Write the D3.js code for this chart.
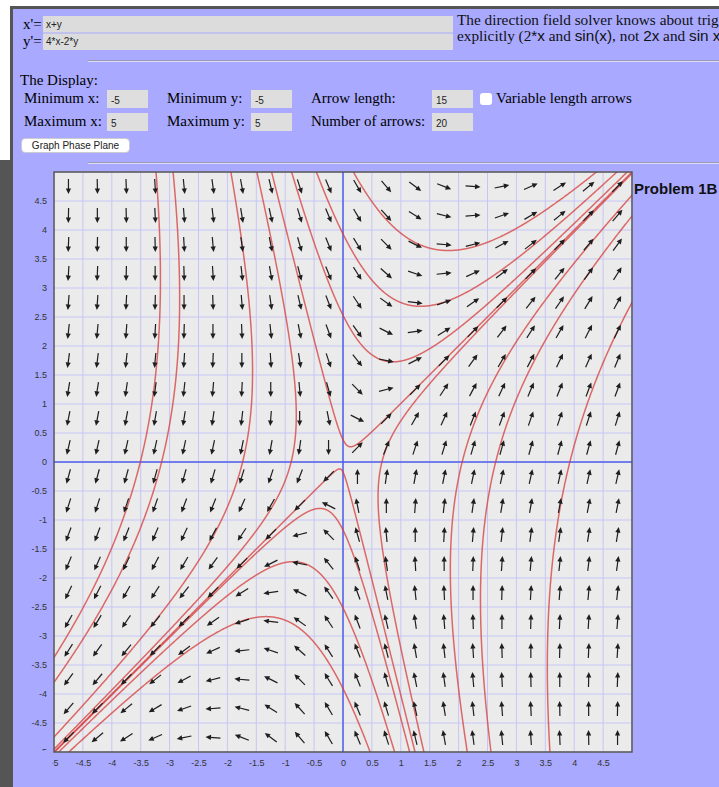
<!DOCTYPE html>
<html>
<head>
<meta charset="utf-8">
<script src="https://cdn.jsdelivr.net/npm/d3@7"></script>
<style>
body { margin: 0; background: #fff; }
svg { display: block; }
</style>
</head>
<body>
<div id="vis"></div>
<script>
// x' = xPrime[0]*x + xPrime[1]*y ,  y' = yPrime[0]*x + yPrime[1]*y
var xPrime = [1, 1];
var yPrime = [4, -2];
var xRange = [-5, 5];
var yRange = [-5, 5];
var arrowCount = 20;
var arrowLength = 15;

var xTicks = [-5, -4.5, -4, -3.5, -3, -2.5, -2, -1.5, -1, -0.5, 0, 0.5, 1, 1.5, 2, 2.5, 3, 3.5, 4, 4.5];
var yTicks = [-5, -4.5, -4, -3.5, -3, -2.5, -2, -1.5, -1, -0.5, 0, 0.5, 1, 1.5, 2, 2.5, 3, 3.5, 4, 4.5];
var gridValues = [-5, -4.5, -4, -3.5, -3, -2.5, -2, -1.5, -1, -0.5, 0, 0.5, 1, 1.5, 2, 2.5, 3, 3.5, 4, 4.5, 5];

var topStarts = [-3.235, -2.94, -1.94, -1.49, -1.235, -0.89, -0.46, 0.18];
var bottomStarts = [0.47, 0.893, 1.153, 1.246, 1.4, 2.15, 2.56, 3.58];

var serif = "'Liberation Serif', 'Times New Roman', serif";
var sans = "'Liberation Sans', Arial, Helvetica, sans-serif";

var W = 719, H = 787;
var svg = d3.select("#vis").append("svg").attr("width", W).attr("height", H);

// page frame
svg.append("rect").attr("x", 10).attr("y", 6).attr("width", W - 10).attr("height", H - 6).attr("fill", "#555");
svg.append("rect").attr("x", 0).attr("y", 160).attr("width", 13).attr("height", H - 160).attr("fill", "#555");
svg.append("rect").attr("x", 13).attr("y", 9).attr("width", W - 13).attr("height", H - 9).attr("fill", "#a9aaff");

// equation inputs
var head = svg.append("g");
head.append("text").attr("x", 23).attr("y", 29).attr("font-family", serif).attr("font-size", 15).text("x'=");
head.append("text").attr("x", 23).attr("y", 46).attr("font-family", serif).attr("font-size", 15).text("y'=");
head.append("rect").attr("x", 43).attr("y", 16).attr("width", 410).attr("height", 16.5).attr("fill", "#dcdcdc");
head.append("rect").attr("x", 43).attr("y", 33.5).attr("width", 410).attr("height", 16.5).attr("fill", "#dcdcdc");
head.append("text").attr("x", 46).attr("y", 28).attr("font-family", sans).attr("font-size", 10).attr("fill", "#222").text("x+y");
head.append("text").attr("x", 46).attr("y", 45).attr("font-family", sans).attr("font-size", 10).attr("fill", "#222").text("4*x-2*y");

var note = head.append("text").attr("font-family", serif).attr("font-size", 15.3).attr("fill", "#111");
note.append("tspan").attr("x", 457).attr("y", 25).text("The direction field solver knows about trig");
var l2 = note.append("tspan").attr("x", 457).attr("y", 41);
l2.append("tspan").text("explicitly (2");
l2.append("tspan").attr("font-family", sans).text("*x");
l2.append("tspan").text(" and ");
l2.append("tspan").attr("font-family", sans).text("sin(x)");
l2.append("tspan").text(", not ");
l2.append("tspan").attr("font-family", sans).text("2x");
l2.append("tspan").text(" and ");
l2.append("tspan").attr("font-family", sans).text("sin x");

// rules
[61, 163].forEach(function (yy) {
    svg.append("rect").attr("x", 88).attr("y", yy - 1).attr("width", W - 88).attr("height", 1).attr("fill", "#9a9ab8");
    svg.append("rect").attr("x", 88).attr("y", yy).attr("width", W - 88).attr("height", 1).attr("fill", "#dcdcf4");
});

// display settings
svg.append("text").attr("x", 20).attr("y", 85).attr("font-family", serif).attr("font-size", 15).text("The Display:");

var fields = [
    ["Minimum x:", 24, 103, 107, "-5"], ["Maximum x:", 24, 126, 107, "5"],
    ["Minimum y:", 167, 103, 251, "-5"], ["Maximum y:", 167, 126, 251, "5"],
    ["Arrow length:", 311, 103, 432, String(arrowLength)], ["Number of arrows:", 311, 126, 432, String(arrowCount)]
];
var f = svg.append("g").selectAll("g").data(fields).enter().append("g");
f.append("text").attr("x", function (d) { return d[1]; }).attr("y", function (d) { return d[2]; })
    .attr("font-family", serif).attr("font-size", 15).text(function (d) { return d[0]; });
f.append("rect").attr("x", function (d) { return d[3]; }).attr("y", function (d) { return d[2] - 13; })
    .attr("width", 41).attr("height", 18).attr("fill", "#dedede");
f.append("text").attr("x", function (d) { return d[3] + 4; }).attr("y", function (d) { return d[2] + 1; })
    .attr("font-family", sans).attr("font-size", 10).attr("fill", "#222").text(function (d) { return d[4]; });

svg.append("rect").attr("x", 480).attr("y", 93).attr("width", 12).attr("height", 12).attr("rx", 3).attr("fill", "#fff");
svg.append("text").attr("x", 496).attr("y", 103).attr("font-family", serif).attr("font-size", 15).text("Variable length arrows");

svg.append("rect").attr("x", 21.5).attr("y", 138.5).attr("width", 108).attr("height", 14).attr("rx", 4)
    .attr("fill", "#fff").attr("stroke", "#c8c8c8").attr("stroke-width", 0.8);
svg.append("text").attr("x", 75.5).attr("y", 149).attr("text-anchor", "middle").attr("font-family", sans)
    .attr("font-size", 10).attr("fill", "#222").text("Graph Phase Plane");

// phase plane
var left = 54, right = 632, ptop = 172, bottom = 752;
var x = d3.scaleLinear().domain(xRange).range([left, right]);
var y = d3.scaleLinear().domain(yRange).range([bottom, ptop]);

svg.append("defs").append("clipPath").attr("id", "plotclip")
    .append("rect").attr("x", left).attr("y", ptop).attr("width", right - left).attr("height", bottom - ptop);

svg.append("rect").attr("x", left).attr("y", ptop).attr("width", right - left).attr("height", bottom - ptop).attr("fill", "#ebebeb");

var grid = svg.append("g");
grid.selectAll(".gx").data(gridValues).enter().append("line")
    .attr("x1", function (d) { return x(d); }).attr("x2", function (d) { return x(d); })
    .attr("y1", ptop).attr("y2", bottom)
    .attr("stroke", "#c6c6f6").attr("stroke-width", 1);
grid.selectAll(".gy").data(gridValues).enter().append("line")
    .attr("y1", function (d) { return y(d); }).attr("y2", function (d) { return y(d); })
    .attr("x1", left).attr("x2", right)
    .attr("stroke", "#c6c6f6").attr("stroke-width", 1);
grid.append("line").attr("x1", x(0)).attr("x2", x(0)).attr("y1", ptop).attr("y2", bottom).attr("stroke", "#4f5fe8").attr("stroke-width", 1.5);
grid.append("line").attr("y1", y(0)).attr("y2", y(0)).attr("x1", left).attr("x2", right).attr("stroke", "#4f5fe8").attr("stroke-width", 1.5);

function field(p) {
    return [xPrime[0] * p[0] + xPrime[1] * p[1], yPrime[0] * p[0] + yPrime[1] * p[1]];
}

function trace(start, dir) {
    var pts = [], p = start.slice(), h = 0.0015 * dir;
    for (var i = 0; i < 30000; i++) {
        pts.push(p);
        if (Math.abs(p[0]) > 5.3 || Math.abs(p[1]) > 5.3) break;
        var k1 = field(p);
        var k2 = field([p[0] + h / 2 * k1[0], p[1] + h / 2 * k1[1]]);
        var k3 = field([p[0] + h / 2 * k2[0], p[1] + h / 2 * k2[1]]);
        var k4 = field([p[0] + h * k3[0], p[1] + h * k3[1]]);
        p = [p[0] + h / 6 * (k1[0] + 2 * k2[0] + 2 * k3[0] + k4[0]),
             p[1] + h / 6 * (k1[1] + 2 * k2[1] + 2 * k3[1] + k4[1])];
    }
    return pts;
}

var seeds = topStarts.map(function (v) { return [v, yRange[1]]; })
    .concat(bottomStarts.map(function (v) { return [v, yRange[0]]; }));
var curves = seeds.map(function (s) {
    return trace(s, -1).reverse().concat(trace(s, 1));
});

var line = d3.line().x(function (d) { return x(d[0]); }).y(function (d) { return y(d[1]); });
svg.append("g").attr("clip-path", "url(#plotclip)")
    .selectAll("path").data(curves).enter().append("path")
    .attr("d", line).attr("fill", "none")
    .attr("stroke", "#d63c3c").attr("stroke-opacity", 0.75).attr("stroke-width", 1.5);

// direction field arrows
var step = (xRange[1] - xRange[0]) / arrowCount;
var cells = [];
for (var i = 0; i < arrowCount; i++) {
    for (var j = 0; j < arrowCount; j++) {
        cells.push([xRange[0] + (i + 0.5) * step, yRange[0] + (j + 0.5) * step]);
    }
}
svg.append("g").selectAll("g").data(cells).enter().append("g")
    .each(function (d) {
        var v = field(d);
        var px = x(d[0] + v[0]) - x(d[0]);
        var py = y(d[1] + v[1]) - y(d[1]);
        var n = Math.sqrt(px * px + py * py);
        if (n === 0) return;
        var ux = px / n, uy = py / n;
        var cx = x(d[0]), cy = y(d[1]);
        var sx = cx - ux * arrowLength / 2, sy = cy - uy * arrowLength / 2;
        var ex = cx + ux * arrowLength / 2, ey = cy + uy * arrowLength / 2;
        var hl = 5.5, hw = 2.6;
        var bx = ex - ux * hl, by = ey - uy * hl;
        var g = d3.select(this);
        g.append("line").attr("x1", sx).attr("y1", sy).attr("x2", bx + ux).attr("y2", by + uy)
            .attr("stroke", "#1e1e1e").attr("stroke-width", 1.2);
        g.append("path")
            .attr("d", "M" + ex + "," + ey + "L" + (bx - uy * hw) + "," + (by + ux * hw) + "L" + (bx + uy * hw) + "," + (by - ux * hw) + "Z")
            .attr("fill", "#1e1e1e");
    });

svg.append("rect").attr("x", left).attr("y", ptop).attr("width", right - left).attr("height", bottom - ptop)
    .attr("fill", "none").attr("stroke", "#555").attr("stroke-width", 1.5);

// axis labels (the -5 labels are cut off by the drawing area, as on the original page)
svg.append("defs").append("clipPath").attr("id", "xlabclip")
    .append("rect").attr("x", 52.5).attr("y", bottom).attr("width", 700).attr("height", 40);
svg.append("defs").append("clipPath").attr("id", "ylabclip")
    .append("rect").attr("x", 0).attr("y", ptop).attr("width", 54).attr("height", bottom - ptop - 1.5);

var xAxis = svg.append("g").attr("clip-path", "url(#xlabclip)").append("g")
    .attr("transform", "translate(0," + bottom + ")")
    .call(d3.axisBottom(x).tickValues(xTicks).tickSize(0).tickPadding(8).tickFormat(function (d) { return String(d); }));
var yAxis = svg.append("g").attr("clip-path", "url(#ylabclip)").append("g")
    .attr("transform", "translate(50,0)")
    .call(d3.axisLeft(y).tickValues(yTicks).tickSize(0).tickPadding(3).tickFormat(function (d) { return String(d); }));
[xAxis, yAxis].forEach(function (a) {
    a.select(".domain").remove();
    a.selectAll("text").attr("font-family", sans).attr("font-size", 9).attr("fill", "#333");
});

svg.append("text").attr("x", 634).attr("y", 194).attr("font-family", sans).attr("font-weight", "bold")
    .attr("font-size", 15).attr("fill", "#111").text("Problem 1B");
</script>
</body>
</html>
